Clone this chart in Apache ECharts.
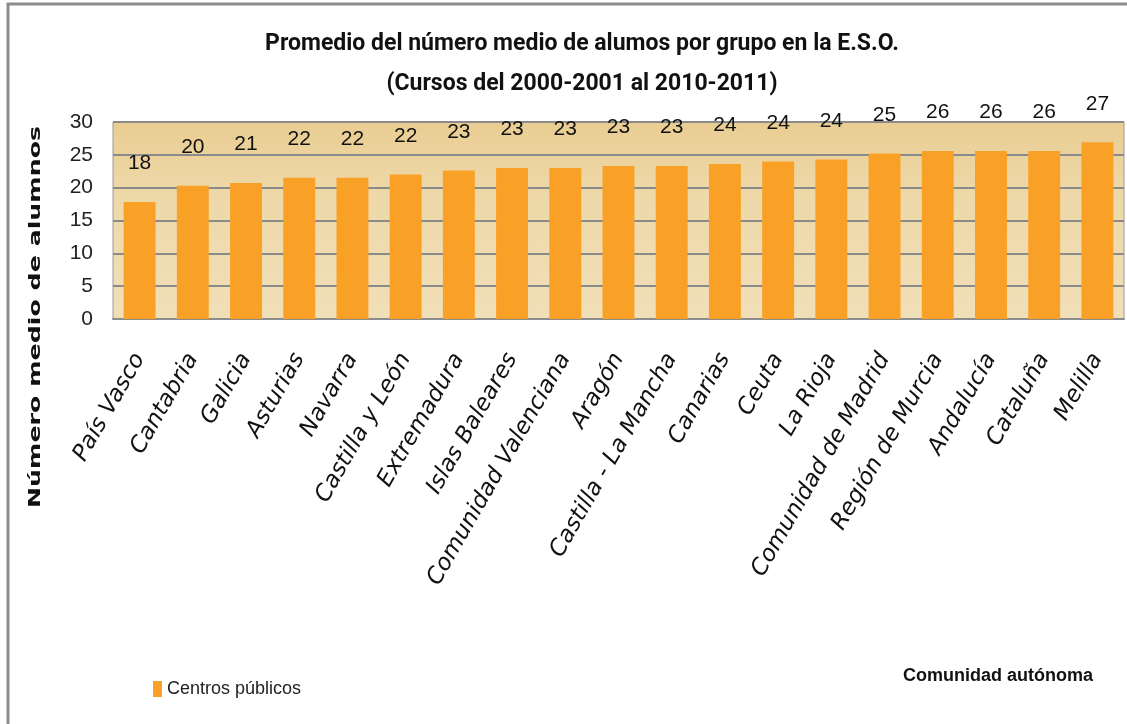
<!DOCTYPE html>
<html>
<head>
<meta charset="utf-8">
<script src="https://cdn.jsdelivr.net/npm/echarts@6/dist/echarts.min.js"></script>
<style>
html,body{margin:0;padding:0;background:#fff;}
#chart{width:1127px;height:724px;}
</style>
</head>
<body>
<div id="chart"></div>
<script>
var categories = ['País Vasco','Cantabria','Galicia','Asturias','Navarra','Castilla y León','Extremadura','Islas Baleares','Comunidad Valenciana','Aragón','Castilla - La Mancha','Canarias','Ceuta','La Rioja','Comunidad de Madrid','Región de Murcia','Andalucía','Cataluña','Melilla'];
var values = [17.8, 20.3, 20.7, 21.5, 21.5, 22.0, 22.6, 23.0, 23.0, 23.3, 23.3, 23.6, 24.0, 24.3, 25.2, 25.6, 25.6, 25.6, 26.9];
var valueLabels = [18, 20, 21, 22, 22, 22, 23, 23, 23, 23, 23, 24, 24, 24, 25, 26, 26, 26, 27];
var yTicks = [0, 5, 10, 15, 20, 25, 30];
var seriesName = 'Centros públicos';
var titleLines = ['Promedio del número medio de alumos por grupo en la E.S.O.', '(Cursos del 2000-2001 al 2010-2011)'];
var yAxisTitle = 'Número medio de alumnos';
var xAxisTitle = 'Comunidad autónoma';

var chart = echarts.init(document.getElementById('chart'), null, {renderer: 'canvas'});
var option = {
  backgroundColor: '#ffffff',
  animation: false,
  title: {
    text: titleLines.join('\n'),
    left: 577, top: 19, textAlign: 'center',
    textStyle: {fontFamily: 'Roboto', fontWeight: 'bold', fontSize: 23, lineHeight: 40, color: '#111'}
  },
  legend: {
    data: [seriesName],
    left: 148, top: 675,
    itemWidth: 9, itemHeight: 16, itemGap: 6,
    textStyle: {fontFamily: 'Liberation Sans', fontSize: 18, color: '#222'},
    icon: 'rect'
  },
  grid: {
    left: 113, right: 3, top: 122, bottom: 405,
    show: true,
    borderColor: '#9a9a9a', borderWidth: 1,
    backgroundColor: {
      type: 'linear', x: 0, y: 0, x2: 0, y2: 1,
      colorStops: [
        {offset: 0, color: '#E9CD92'},
        {offset: 0.35, color: '#EED8A8'},
        {offset: 1, color: '#F1DFB8'}
      ]
    }
  },
  xAxis: {
    type: 'category',
    data: categories,
    axisLine: {show: true, lineStyle: {color: '#8c8c8c', width: 2}},
    axisTick: {show: false},
    axisLabel: {
      rotate: 60, margin: 36, interval: 0,
      fontFamily: 'DejaVu Sans', fontStyle: 'italic', fontSize: 23, color: '#111'
    }
  },
  yAxis: {
    type: 'value',
    min: yTicks[0], max: yTicks[yTicks.length - 1], interval: 5,
    axisLine: {show: false},
    axisTick: {show: false},
    splitLine: {lineStyle: {color: '#8a8a8a', width: 2}},
    axisLabel: {margin: 20, fontFamily: 'Liberation Sans', fontSize: 21, color: '#222'}
  },
  series: [{
    name: seriesName,
    type: 'bar',
    data: values,
    barWidth: '60%',
    itemStyle: {color: '#F9A126'},
    label: {
      show: true, position: 'top', distance: 28,
      fontFamily: 'Liberation Sans', fontSize: 21, color: '#111',
      formatter: function (p) { return String(valueLabels[p.dataIndex]); }
    }
  }],
  graphic: [
    {
      type: 'rect', silent: true, z: -1,
      shape: {x: 8, y: 4, width: 1130, height: 740},
      style: {fill: null, stroke: '#8c8c8c', lineWidth: 3}
    },
    {
      type: 'text', x: 36, y: 317, rotation: Math.PI / 2, scaleX: 1.58,
      style: {text: yAxisTitle, fontFamily: 'DejaVu Sans', fontWeight: 'bold', fontSize: 16, fill: '#111', align: 'center', verticalAlign: 'middle'}
    },
    {
      type: 'text', x: 998, y: 676,
      style: {text: xAxisTitle, fontFamily: 'Liberation Sans', fontWeight: 'bold', fontSize: 18, fill: '#111', align: 'center', verticalAlign: 'middle'}
    }
  ]
};
chart.setOption(option);
</script>
</body>
</html>
